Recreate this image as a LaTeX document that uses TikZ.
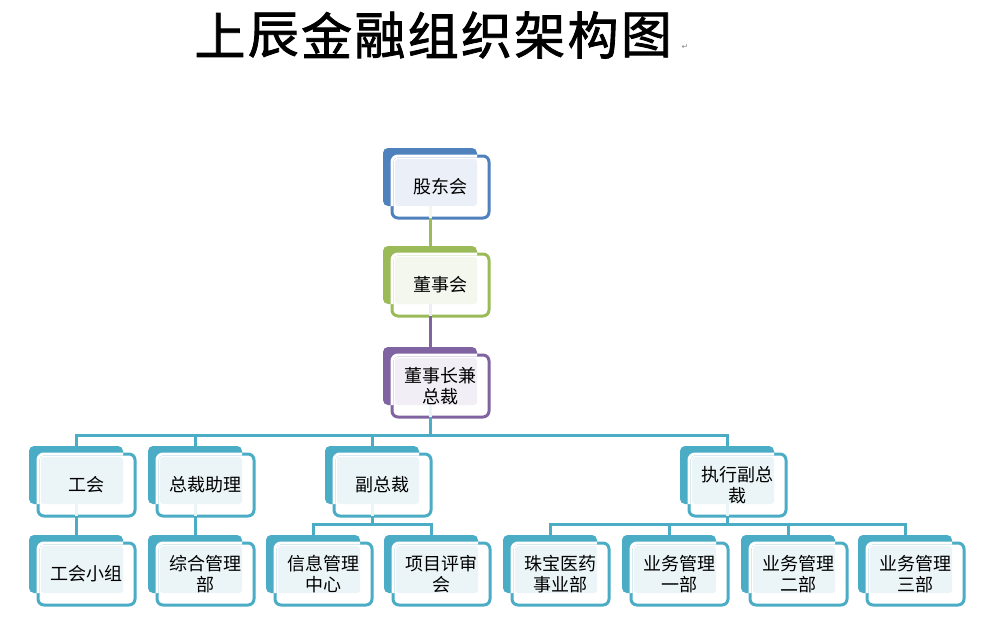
\documentclass[tikz,border=0pt]{standalone}
\usepackage{fontspec}
\newfontfamily\cjk{Noto Sans CJK SC}
\newfontfamily\cjktitle[FakeBold=1.6]{Noto Sans CJK SC}
\newfontfamily\djv{DejaVu Sans}
\usetikzlibrary{calc}
\definecolor{cblue}{HTML}{4F81BD}
\definecolor{cgreen}{HTML}{9BBB59}
\definecolor{cpurple}{HTML}{8064A2}
\definecolor{cteal}{HTML}{4BACC6}
\definecolor{tblue}{HTML}{EBF0F8}
\definecolor{tgreen}{HTML}{F3F7EE}
\definecolor{tpurple}{HTML}{F1EEF5}
\definecolor{tteal}{HTML}{EBF5F8}
\tikzset{
  backbox/.style={rectangle, rounded corners=5pt, minimum width=94pt, minimum height=58pt, inner sep=0pt, outer sep=0pt},
  frontbox/.style={rectangle, rounded corners=6pt, fill=white, line width=3pt, minimum width=97pt, minimum height=62pt, inner sep=0pt, outer sep=0pt},
  txt/.style={font=\cjk\fontsize{18}{21.5}\selectfont, align=center, text=black, inner sep=0pt},
  conn/.style={line width=3pt},
  titlechar/.style={font=\cjktitle\fontsize{51}{53}\selectfont, inner sep=0pt}
}
\newcommand\orgunit[6]{%
  \node[backbox, fill=#4] (#1-b) at (#2+47,#3+29) {};
  \node[frontbox, draw=#4] (#1) at (#2+57.5,#3+39) {};
  \begin{scope}
    \clip[rounded corners=5pt] (#1-b.north west) rectangle (#1-b.south east);
    \draw[white, line width=3pt, rounded corners=6pt] (#1.north west) rectangle (#1.south east);
  \end{scope}
  \fill[#5, rounded corners=3pt] ($(#1.north west)+(3,3)$) rectangle (#1-b.south east);
  \node[txt] (#1-t) at (#1.center) {#6};
}
\begin{document}
\begin{tikzpicture}[x=1pt,y=-1pt]
\useasboundingbox[fill=white] (0,0) rectangle (982,618);
% title
\foreach \c [count=\i from 0] in {上,辰,金,融,组,织,架,构,图}{
  \node[titlechar] (t\i) at (220+53.3*\i,35) {\c};
}
\node[font=\djv\fontsize{8}{9}\selectfont, text=black!45, inner sep=0pt] (pm) at (685,47) {↵};
% units
\orgunit{gd}{383}{148}{cblue}{tblue}{股东会}
\orgunit{dsh}{383}{246}{cgreen}{tgreen}{董事会}
\orgunit{zc}{383}{347}{cpurple}{tpurple}{董事长兼\\总裁}
\orgunit{gh}{29}{446}{cteal}{tteal}{工会}
\orgunit{zl}{148}{446}{cteal}{tteal}{总裁助理}
\orgunit{fz}{325}{446}{cteal}{tteal}{副总裁}
\orgunit{zx}{680}{446}{cteal}{tteal}{执行副总\\裁}
\orgunit{ghx}{29}{535}{cteal}{tteal}{工会小组}
\orgunit{zh}{148}{535}{cteal}{tteal}{综合管理\\部}
\orgunit{xx}{266}{535}{cteal}{tteal}{信息管理\\中心}
\orgunit{xm}{384}{535}{cteal}{tteal}{项目评审\\会}
\orgunit{zb}{503}{535}{cteal}{tteal}{珠宝医药\\事业部}
\orgunit{ya}{622}{535}{cteal}{tteal}{业务管理\\一部}
\orgunit{yb}{741}{535}{cteal}{tteal}{业务管理\\二部}
\orgunit{yc}{858}{535}{cteal}{tteal}{业务管理\\三部}
% faint segments inside front boxes
\foreach \n/\col in {gd/cgreen,dsh/cpurple,zc/cteal,gh/cteal,zl/cteal,fz/cteal,zx/cteal}{
  \draw[conn, draw=\col!12] (\n-b.south) -- (\n-b.south |- \n.south);
}
% connectors
\draw[conn, cgreen] (gd-b.south |- gd.south) -- (dsh-b.north);
\draw[conn, cpurple] (dsh-b.south |- dsh.south) -- (zc-b.north);
\coordinate (bus1) at (430,435);
\coordinate (bus2) at (372,524);
\coordinate (bus3) at (727,524);
\draw[conn, cteal] (zc-b.south |- zc.south) -- (bus1);
\foreach \c in {gh,zl,fz,zx}{
  \draw[conn, cteal] (bus1) -| (\c-b.north);
}
\draw[conn, cteal] (gh-b.south |- gh.south) -- (ghx-b.north);
\draw[conn, cteal] (zl-b.south |- zl.south) -- (zh-b.north);
\draw[conn, cteal] (fz-b.south |- fz.south) -- (bus2);
\foreach \c in {xx,xm}{
  \draw[conn, cteal] (bus2) -| (\c-b.north);
}
\draw[conn, cteal] (zx-b.south |- zx.south) -- (bus3);
\foreach \c in {zb,ya,yb,yc}{
  \draw[conn, cteal] (bus3) -| (\c-b.north);
}
\end{tikzpicture}
\end{document}
